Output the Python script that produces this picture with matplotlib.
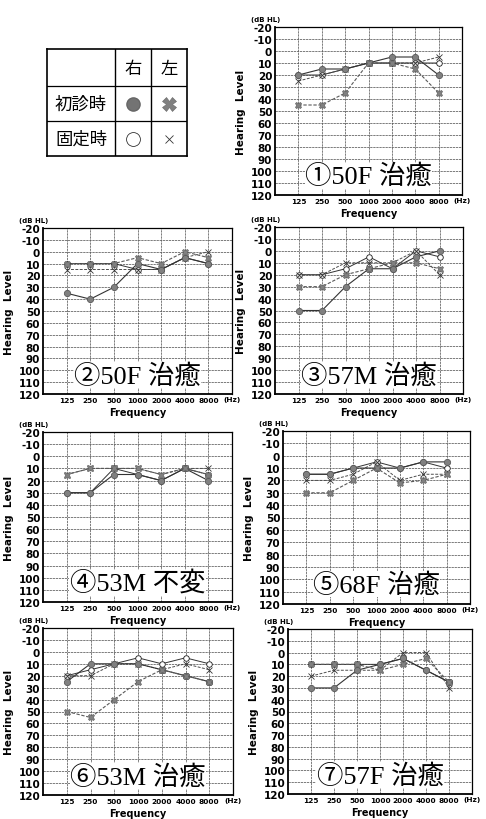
import matplotlib
matplotlib.use('Agg')
import matplotlib.pyplot as plt
import numpy as np

plt.rcParams['font.family'] = ['DejaVu Sans', 'Noto Sans CJK JP']

freqs = [125, 250, 500, 1000, 2000, 4000, 8000]
freq_labels = ['125', '250', '500', '1000', '2000', '4000', '8000']
db_ticks = list(range(-20, 121, 10))

titles = ['①50F 治癒', '②50F 治癒', '③57M 治癒', '④53M 不変',
          '⑤68F 治癒', '⑥53M 治癒', '⑦57F 治癒']

# dB HL per panel, 125..8000 Hz
right_initial = [[20, 15, 15, 10, 5, 5, 20],
                 [35, 40, 30, 10, 15, 5, 10],
                 [50, 50, 30, 15, 15, 5, 0],
                 [30, 30, 15, 15, 20, 10, 20],
                 [15, 15, 10, 10, 10, 5, 5],
                 [25, 10, 10, 10, 15, 20, 25],
                 [30, 30, 15, 10, 5, 15, 25]]
left_initial = [[45, 45, 35, 10, 10, 15, 35],
                [10, 10, 10, 5, 10, 0, 5],
                [30, 30, 20, 15, 10, 10, 15],
                [15, 10, 10, 10, 15, 10, 15],
                [30, 30, 20, 10, 22, 20, 15],
                [50, 55, 40, 25, 15, 20, 25],
                [10, 10, 10, 15, 10, 5, 25]]
right_fixed = [[20, 20, 15, 10, 10, 10, 10],
               [10, 10, 10, 15, 15, 5, 10],
               [20, 20, 15, 5, 15, 0, 5],
               [30, 30, 10, 15, 20, 10, 15],
               [15, 15, 10, 5, 10, 5, 10],
               [20, 15, 10, 5, 10, 5, 10],
               [10, 10, 10, 10, 5, 15, 25]]
left_fixed = [[25, 20, 15, 10, 10, 10, 5],
              [15, 15, 15, 15, 15, 5, 0],
              [20, 20, 10, 10, 10, 0, 20],
              [15, 10, 10, 10, 15, 10, 10],
              [20, 20, 15, 5, 20, 15, 15],
              [20, 20, 10, 10, 15, 10, 15],
              [20, 15, 15, 15, 0, 0, 30]]

# axes boxes in pixels (left, top, right, bottom)
boxes = [(275, 28, 462, 196), (43, 229, 232, 395), (275, 228, 463, 395),
         (43, 433, 232, 603), (283, 432, 470, 605), (43, 629, 233, 796),
         (288, 630, 472, 795)]

W, H = 486, 820
fig = plt.figure(figsize=(W / 100, H / 100), dpi=100)


def px_axes(x0, y0, x1, y1):
    return fig.add_axes([x0 / W, 1 - y1 / H, (x1 - x0) / W, (y1 - y0) / H])


dash = (0, (3, 1.5))
for i, (x0, y0, x1, y1) in enumerate(boxes):
    ax = px_axes(x0, y0, x1, y1)
    ax.set_xscale('log', base=2)
    ax.set_xlim(62.5, 16000)
    ax.set_ylim(120, -20)
    ax.set_xticks(freqs)
    ax.set_xticklabels(freq_labels, fontsize=5.3, fontweight='bold')
    ax.minorticks_off()
    ax.set_yticks(db_ticks)
    ax.set_yticklabels([str(v) for v in db_ticks], fontsize=7.5, fontweight='bold')
    ax.tick_params(length=0, pad=2)
    ax.grid(True, color='0.35', linestyle=(0, (3, 1)), linewidth=0.55)
    for s in ax.spines.values():
        s.set_linewidth(0.9)
    ax.spines['left'].set_linewidth(1.3)
    ax.spines['bottom'].set_linewidth(1.3)

    ax.plot(freqs, right_fixed[i], color='0.2', lw=0.7, marker='o', ms=4,
            mfc='white', mec='0.1', mew=0.6)
    ax.plot(freqs, left_fixed[i], color='0.3', lw=0.7, ls=dash, marker='x',
            ms=4, mec='0.2', mew=0.6)
    ax.plot(freqs, right_initial[i], color='0.2', lw=0.8, marker='o', ms=4.5,
            mfc='0.5', mec='0.35', mew=0.6)
    ax.plot(freqs, left_initial[i], color='0.35', lw=0.8, ls=dash, marker='X',
            ms=5, mfc='0.5', mec='0.35', mew=0.4)

    ax.set_ylabel('Hearing  Level', fontsize=7.5, fontweight='bold', labelpad=3)
    ax.set_xlabel('Frequency', fontsize=7, fontweight='bold', labelpad=3)
    ax.text(-0.05, 1.03, '(dB HL)', transform=ax.transAxes, fontsize=5,
            fontweight='bold', ha='center', va='bottom')
    ax.text(1.0, -0.012, '(Hz)', transform=ax.transAxes, fontsize=5.3,
            fontweight='bold', ha='center', va='top')
    ax.text(0.5, 104, titles[i], transform=ax.get_yaxis_transform(),
            family=['Liberation Serif', 'Noto Sans CJK JP'], fontsize=19,
            ha='center', va='center', zorder=5,
            bbox=dict(facecolor='white', edgecolor='none', pad=0.3))

# legend table
lg = px_axes(47, 50, 187, 157)
lg.set_xlim(0, 1)
lg.set_ylim(0, 1)
lg.set_xticks([])
lg.set_yticks([])
for s in lg.spines.values():
    s.set_linewidth(1.2)
col_x = [0.486, 0.743]
row_y = [0.654, 0.327]
for cx in col_x:
    lg.axvline(cx, color='k', lw=1.0)
for ry in row_y:
    lg.axhline(ry, color='k', lw=0.9)
jp = ['Noto Sans CJK JP']
lg.text(0.614, 0.827, '右', family=jp, fontsize=12.5, ha='center', va='center')
lg.text(0.871, 0.827, '左', family=jp, fontsize=12.5, ha='center', va='center')
lg.text(0.243, 0.49, '初診時', family=jp, fontsize=12.5, ha='center', va='center')
lg.text(0.243, 0.163, '固定時', family=jp, fontsize=12.5, ha='center', va='center')
lg.plot([0.614], [0.49], marker='o', ms=9.5, mfc='0.45', mec='0.4')
lg.plot([0.871], [0.49], marker='X', ms=10, mfc='0.5', mec='0.4', mew=0.4)
lg.plot([0.614], [0.163], marker='o', ms=10, mfc='white', mec='0.2', mew=0.6)
lg.plot([0.871], [0.163], marker='x', ms=6, mec='0.2', mew=0.6)

fig.savefig('out.png', dpi=100)
